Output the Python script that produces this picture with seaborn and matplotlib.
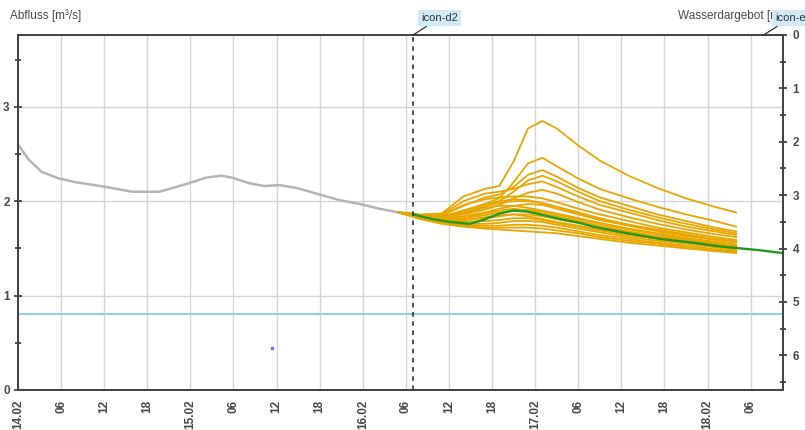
import numpy as np
import pandas as pd
import seaborn as sns
import matplotlib.pyplot as plt
from matplotlib.ticker import MultipleLocator, FuncFormatter

# %% data (x = hours since 14.02 00:00)
hist_h = [0, 1.5, 3.3, 5.7, 8.1, 12.3, 15.9, 19.7, 23.8, 26.2, 28.3, 29.8, 32.2, 34.3,
          36.4, 38.8, 42, 44.8, 47.6, 50.3, 53.1, 55]
hist_q = [2.60, 2.44, 2.31, 2.24, 2.20, 2.15, 2.10, 2.10, 2.19, 2.25, 2.27, 2.25, 2.19, 2.16,
          2.17, 2.14, 2.07, 2.01, 1.97, 1.92, 1.88, 1.87]

det_h = [55, 57.7, 60.1, 62.9, 64.7, 67.1, 68.9, 70.9, 72.7, 75.5, 78.2, 80.1, 84.8, 89.4,
         94, 97.8, 103.3, 106.5]
det_q = [1.86, 1.81, 1.78, 1.76, 1.80, 1.87, 1.90, 1.89, 1.86, 1.81, 1.77, 1.73, 1.66, 1.60,
         1.56, 1.52, 1.48, 1.45]

ens_h = [53, 56, 59, 62, 65, 67, 69, 71, 73, 75, 78, 81, 85, 89, 93, 97, 100]
ens_q = [
    [1.88, 1.86, 1.87, 2.05, 2.13, 2.16, 2.42, 2.77, 2.85, 2.77, 2.59, 2.43, 2.27, 2.14, 2.03, 1.94, 1.88],
    [1.88, 1.85, 1.84, 1.90, 1.97, 2.03, 2.20, 2.40, 2.46, 2.37, 2.24, 2.13, 2.03, 1.94, 1.86, 1.79, 1.73],
    [1.88, 1.85, 1.85, 1.95, 2.04, 2.07, 2.15, 2.28, 2.33, 2.26, 2.14, 2.04, 1.95, 1.86, 1.79, 1.72, 1.68],
    [1.88, 1.85, 1.84, 1.88, 1.94, 2.00, 2.10, 2.22, 2.27, 2.21, 2.10, 2.00, 1.91, 1.83, 1.76, 1.70, 1.66],
    [1.88, 1.85, 1.86, 2.00, 2.08, 2.10, 2.13, 2.18, 2.21, 2.15, 2.05, 1.96, 1.88, 1.80, 1.73, 1.68, 1.64],
    [1.88, 1.84, 1.83, 1.86, 1.91, 1.96, 2.03, 2.09, 2.12, 2.08, 1.99, 1.91, 1.83, 1.76, 1.70, 1.65, 1.62],
    [1.88, 1.84, 1.85, 1.96, 2.02, 2.04, 2.05, 2.05, 2.03, 1.99, 1.92, 1.86, 1.79, 1.72, 1.67, 1.62, 1.59],
    [1.88, 1.84, 1.83, 1.88, 1.95, 1.98, 2.00, 2.00, 1.98, 1.94, 1.88, 1.82, 1.75, 1.70, 1.65, 1.60, 1.57],
    [1.88, 1.84, 1.82, 1.84, 1.88, 1.92, 1.95, 1.97, 1.96, 1.92, 1.86, 1.80, 1.74, 1.68, 1.63, 1.59, 1.56],
    [1.88, 1.84, 1.83, 1.87, 1.93, 1.95, 1.95, 1.93, 1.90, 1.87, 1.82, 1.77, 1.71, 1.66, 1.61, 1.57, 1.54],
    [1.88, 1.84, 1.81, 1.82, 1.85, 1.88, 1.90, 1.91, 1.89, 1.86, 1.81, 1.76, 1.70, 1.65, 1.60, 1.56, 1.53],
    [1.88, 1.83, 1.80, 1.80, 1.82, 1.84, 1.86, 1.86, 1.84, 1.81, 1.77, 1.72, 1.67, 1.62, 1.58, 1.54, 1.51],
    [1.88, 1.83, 1.80, 1.80, 1.83, 1.85, 1.86, 1.84, 1.81, 1.78, 1.74, 1.70, 1.65, 1.61, 1.57, 1.53, 1.50],
    [1.88, 1.83, 1.79, 1.78, 1.79, 1.80, 1.82, 1.82, 1.80, 1.77, 1.73, 1.69, 1.64, 1.60, 1.56, 1.52, 1.49],
    [1.88, 1.82, 1.78, 1.76, 1.76, 1.77, 1.79, 1.79, 1.78, 1.75, 1.71, 1.67, 1.62, 1.58, 1.55, 1.51, 1.48],
    [1.88, 1.82, 1.78, 1.75, 1.74, 1.74, 1.75, 1.75, 1.74, 1.72, 1.68, 1.64, 1.60, 1.56, 1.53, 1.49, 1.47],
    [1.88, 1.82, 1.77, 1.74, 1.72, 1.72, 1.72, 1.72, 1.71, 1.69, 1.66, 1.62, 1.58, 1.55, 1.51, 1.48, 1.46],
    [1.88, 1.81, 1.76, 1.73, 1.71, 1.70, 1.69, 1.68, 1.67, 1.66, 1.63, 1.60, 1.56, 1.53, 1.50, 1.47, 1.45],
    [1.88, 1.83, 1.80, 1.82, 1.87, 1.90, 1.92, 1.90, 1.87, 1.84, 1.79, 1.74, 1.68, 1.63, 1.59, 1.55, 1.52],
    [1.88, 1.84, 1.82, 1.90, 1.97, 2.00, 2.02, 2.01, 1.98, 1.94, 1.88, 1.81, 1.75, 1.69, 1.64, 1.60, 1.58],
]

limit_q = 0.8          # horizontal reference line
run_d2_h = 55          # icon-d2 run time
run_e_h = 103.8        # icon-e run time
dot_h, dot_q = [35.3], [0.45]
days = ['14.02', '15.02', '16.02', '17.02', '18.02', '19.02']

# %% long-format frame for the ensemble
ens_df = pd.DataFrame({
    'h': ens_h * len(ens_q),
    'q': [v for m in ens_q for v in m],
    'member': [i for i, m in enumerate(ens_q) for _ in m],
})

sns.set_style('white')
plt.rcParams['font.family'] = ['Liberation Sans', 'DejaVu Sans']
txt = '#4a4a4a'

fig = plt.figure(figsize=(8.05, 4.30), dpi=100)
ax = fig.add_axes([18 / 805, 40 / 430, 765 / 805, 355 / 430])

sns.lineplot(x=hist_h, y=hist_q, ax=ax, color='#b4b4b4', lw=1.8)
sns.lineplot(data=ens_df, x='h', y='q', units='member', estimator=None, ax=ax,
             color='#e8a600', lw=1.3)
sns.lineplot(x=det_h, y=det_q, ax=ax, color='#1f9a1f', lw=1.7)
ax.axhline(limit_q, color='#8fd0ee', lw=1.5)
ax.axvline(run_d2_h, color='#222222', lw=1.1, ls=(0, (3, 3)))
ax.scatter(dot_h, dot_q, s=3, color='#7b6cf0', zorder=5)

ax.set_xlim(0, 106.5)
ax.set_ylim(0, 3.76)
ax.set_xlabel('')
ax.set_ylabel('')
ax.xaxis.set_major_locator(MultipleLocator(6))
ax.xaxis.set_minor_locator(MultipleLocator(2))
ax.yaxis.set_major_locator(MultipleLocator(1))
ax.yaxis.set_minor_locator(MultipleLocator(0.5))


def fmt_x(h, pos):
    h = int(round(h))
    if h % 24 == 0:
        return days[h // 24]
    return f'{h % 24:02d}'


ax.xaxis.set_major_formatter(FuncFormatter(fmt_x))
ax.grid(which='major', color='#d4d4d4', lw=1)
ax.set_axisbelow(True)
for lab in ax.get_xticklabels():
    lab.set_rotation(90)
ax.tick_params(which='both', direction='inout', color='#333333', width=1.2)
ax.tick_params(which='major', length=6, labelsize=8.5, labelcolor=txt, pad=3)
ax.tick_params(which='minor', length=5)
ax.tick_params(axis='x', pad=4)
for lab in ax.get_xticklabels() + ax.get_yticklabels():
    lab.set_fontweight('bold')
for s in ax.spines.values():
    s.set_color('#444444')
    s.set_linewidth(1.4)

ax2 = ax.twinx()
ax2.set_ylim(6.65, 0)
ax2.yaxis.set_major_locator(MultipleLocator(1))
ax2.yaxis.set_minor_locator(MultipleLocator(0.5))
ax2.tick_params(which='both', direction='inout', color='#333333', width=1.2)
ax2.tick_params(which='major', length=6, labelsize=8.5, labelcolor=txt, pad=4)
ax2.tick_params(which='minor', length=5)
for lab in ax2.get_yticklabels():
    lab.set_fontweight('bold')
for s in ax2.spines.values():
    s.set_color('#444444')
    s.set_linewidth(1.4)

# axis titles, drawn with the first axes so the run labels sit on top
ax.text(10 / 805, 1 - 19 / 430, 'Abfluss [m³/s]', fontsize=8.5, color=txt,
        transform=fig.transFigure, clip_on=False)
ax.text(678 / 805, 1 - 19 / 430, 'Wasserdargebot [mm]', fontsize=8.5, color=txt,
        transform=fig.transFigure, clip_on=False)

box = dict(boxstyle='square,pad=0.3', fc='#cfe9f7', ec='none')
ax2.annotate('icon-d2', xy=(run_d2_h, 0), xytext=(421 / 805, 1 - 21 / 430),
             textcoords='figure fraction', fontsize=8, color='#333333', bbox=box,
             annotation_clip=False,
             arrowprops=dict(arrowstyle='-', color='#333333', lw=0.9, shrinkA=0, shrinkB=0))
ax2.annotate('icon-e', xy=(run_e_h, 0), xytext=(775 / 805, 1 - 21 / 430),
             textcoords='figure fraction', fontsize=8, color='#333333', bbox=box,
             annotation_clip=False, zorder=10,
             arrowprops=dict(arrowstyle='-', color='#333333', lw=0.9, shrinkA=0, shrinkB=0))

fig.savefig('out.png', dpi=100)
